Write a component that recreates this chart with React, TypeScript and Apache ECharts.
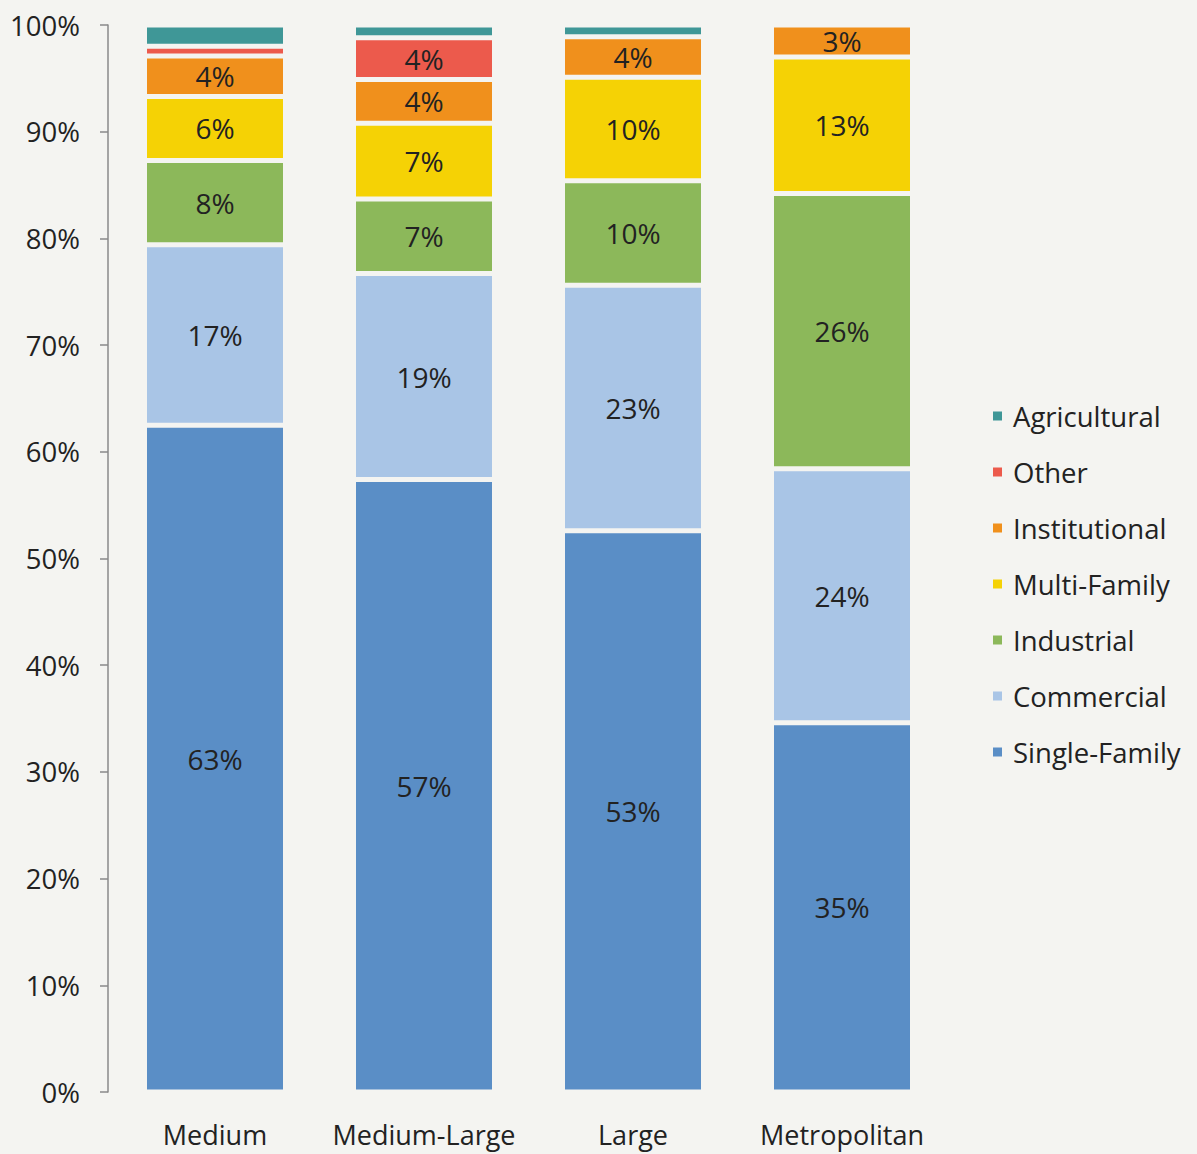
import React, { useEffect, useRef } from "react";
import * as echarts from "echarts";

const categories = ["Medium", "Medium-Large", "Large", "Metropolitan"];
const seriesNames = ["Single-Family", "Commercial", "Industrial", "Multi-Family", "Institutional", "Other", "Agricultural"];
const singleFamily = [62.5, 57.4, 52.6, 34.6];
const commercial = [16.9, 19.3, 23.0, 23.8];
const industrial = [7.9, 7.0, 9.8, 25.8];
const multiFamily = [6.0, 7.1, 9.7, 12.8];
const institutional = [3.8, 4.1, 3.8, 3.0];
const other: (number | null)[] = [0.9, 3.9, null, null];
const agricultural: (number | null)[] = [2.0, 1.2, 1.1, null];
const legendOrder = ["Agricultural", "Other", "Institutional", "Multi-Family", "Industrial", "Commercial", "Single-Family"];
const colors = ["#5a8ec6", "#a9c5e6", "#8cb85a", "#f5d205", "#f0901c", "#ec5a4c", "#3f9797"];

const BG = "#f4f4f1";
const FONT = "'Open Sans', 'Noto Sans', sans-serif";

export default function App() {
  const ref = useRef<HTMLDivElement>(null);
  useEffect(() => {
    document.body.style.margin = "0";
    document.body.style.background = BG;
    const chart = echarts.init(ref.current!, null, { renderer: "svg" });
    const dataSets = [singleFamily, commercial, industrial, multiFamily, institutional, other, agricultural];
    chart.setOption({
      animation: false,
      backgroundColor: BG,
      textStyle: { fontFamily: FONT },
      grid: { left: 110.5, right: 250.5, top: 25, bottom: 62 },
      legend: {
        data: legendOrder,
        orient: "vertical",
        left: 986,
        top: 396,
        itemWidth: 11,
        itemHeight: 11,
        itemGap: 26,
        icon: "rect",
        textStyle: { fontSize: 27.5, color: "#222", fontFamily: FONT, lineHeight: 30, padding: [0, 0, 0, 5] },
      },
      xAxis: {
        type: "category",
        data: categories,
        axisLine: { show: false },
        axisTick: { show: false },
        axisLabel: { fontSize: 27, color: "#222", margin: 29, interval: 0, fontFamily: FONT },
      },
      yAxis: {
        type: "value",
        min: 0,
        max: 100,
        interval: 10,
        offset: 2.5,
        splitLine: { show: false },
        axisLine: { show: true, lineStyle: { color: "#8a8a8a", width: 1.5 } },
        axisTick: { show: true, length: 8, lineStyle: { color: "#8a8a8a", width: 1.5 } },
        axisLabel: { fontSize: 27.5, color: "#222", margin: 28, formatter: "{value}%", fontFamily: FONT },
      },
      series: seriesNames.map((name, i) => ({
        name,
        type: "bar",
        stack: "total",
        barWidth: 141,
        data: dataSets[i],
        itemStyle: { color: colors[i], borderColor: BG, borderWidth: 2.5 },
        label: {
          show: true,
          position: "inside",
          fontSize: 28,
          color: "#222",
          fontFamily: FONT,
          formatter: (p: any) => (p.value >= 2.5 ? Math.round(p.value) + "%" : ""),
        },
      })),
    });
    return () => chart.dispose();
  }, []);
  return <div ref={ref} style={{ width: 1197, height: 1154 }} />;
}
